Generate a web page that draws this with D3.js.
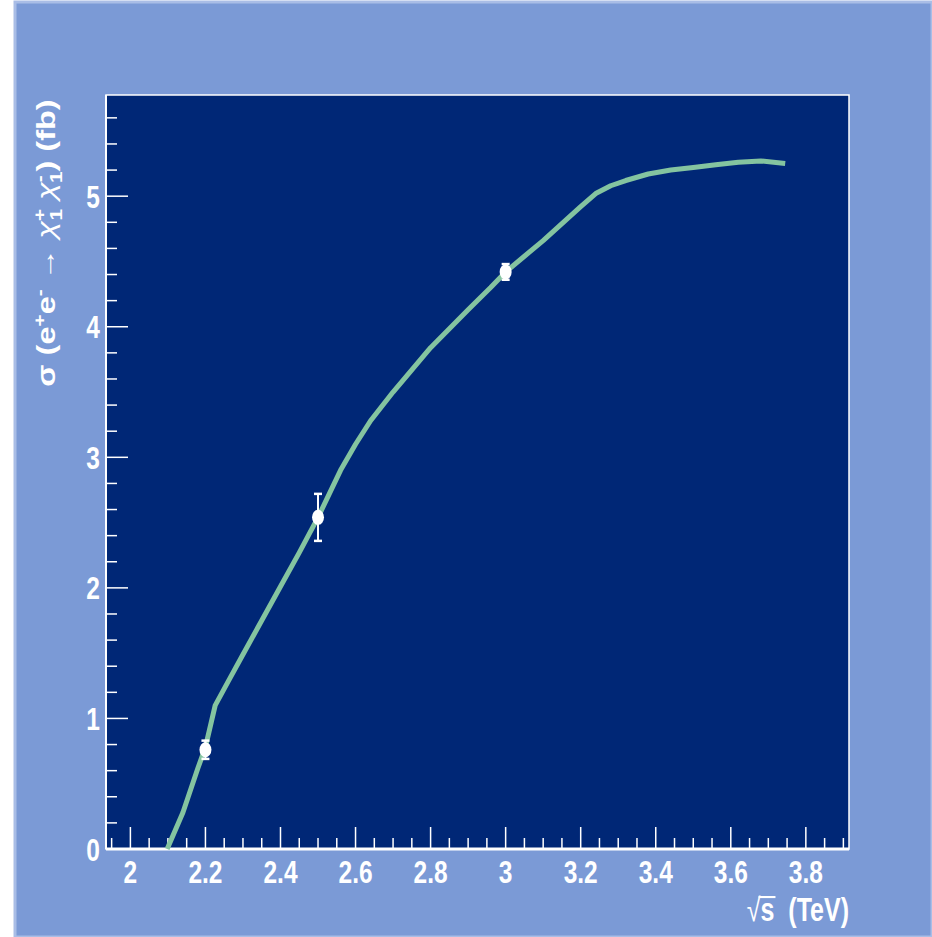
<!DOCTYPE html>
<html>
<head>
<meta charset="utf-8">
<script src="https://cdn.jsdelivr.net/npm/d3@7"></script>
<style>
  html, body { margin: 0; padding: 0; background: #ffffff; }
  svg { display: block; }
  text { font-family: "Liberation Sans", Arial, Helvetica, sans-serif; font-weight: bold; fill: #ffffff; }
</style>
</head>
<body>
<svg id="chart" width="932" height="937"></svg>
<script>
// Theory curve: chargino pair production cross section vs. centre-of-mass energy
const curveSqrtS = [2.098, 2.14, 2.18, 2.20, 2.226, 2.26, 2.30, 2.35, 2.40, 2.45, 2.50, 2.53,
  2.56, 2.60, 2.64, 2.70, 2.80, 2.90, 2.96, 3.00, 3.05, 3.10, 3.15, 3.20, 3.24, 3.28,
  3.32, 3.38, 3.44, 3.50, 3.56, 3.62, 3.68, 3.745];
const curveSigma = [0.0, 0.28, 0.62, 0.78, 1.10, 1.28, 1.49, 1.75, 2.01, 2.27, 2.54, 2.72,
  2.90, 3.10, 3.28, 3.50, 3.84, 4.13, 4.30, 4.42, 4.54, 4.66, 4.79, 4.92, 5.02, 5.08,
  5.12, 5.17, 5.20, 5.22, 5.24, 5.26, 5.27, 5.25];

// Simulated measurements with statistical errors
const pointSqrtS = [2.2, 2.5, 3.0];
const pointSigma = [0.76, 2.54, 4.42];
const pointError = [0.07, 0.18, 0.06];

const xTicks = [2, 2.2, 2.4, 2.6, 2.8, 3, 3.2, 3.4, 3.6, 3.8];
const yTicks = [0, 1, 2, 3, 4, 5];

const svg = d3.select("#chart");
const W = 932, H = 937;
const frame = { left: 106, top: 95, right: 849, bottom: 849 };
const stretch = 1.3;   // tall, narrow lettering

// canvas background
svg.append("rect").attr("x", 15).attr("y", 2).attr("width", W - 15).attr("height", H - 2)
  .attr("fill", "#7b9ad6").attr("stroke", "#a9bde6").attr("stroke-width", 3);

const x = d3.scaleLinear().domain([1.935, 3.915]).range([frame.left, frame.right]);
const y = d3.scaleLinear().domain([0, 5.775]).range([frame.bottom, frame.top]);

// plot frame
svg.append("rect")
  .attr("x", frame.left).attr("y", frame.top)
  .attr("width", frame.right - frame.left).attr("height", frame.bottom - frame.top)
  .attr("fill", "#002776").attr("stroke", "#ffffff").attr("stroke-width", 1.5);

// x axis ticks (pointing into the frame)
const xMinor = d3.range(1.95, 3.9001, 0.05).map(v => +v.toFixed(2));
svg.append("g").selectAll("line").data(xMinor).join("line")
  .attr("x1", d => x(d)).attr("x2", d => x(d))
  .attr("y1", frame.bottom)
  .attr("y2", d => frame.bottom - (xTicks.some(t => Math.abs(t - d) < 1e-6) ? 22 : 11))
  .attr("stroke", "#ffffff").attr("stroke-width", 1.5);

svg.append("g").selectAll("text").data(xTicks).join("text")
  .attr("transform", d => `translate(${x(d)},883) scale(1,${stretch})`)
  .attr("text-anchor", "middle").attr("font-size", 24.5)
  .text(d3.format("~g"));

svg.append("line").attr("x1", frame.left).attr("x2", frame.right)
  .attr("y1", frame.bottom).attr("y2", frame.bottom)
  .attr("stroke", "#ffffff").attr("stroke-width", 3);

// y axis ticks
const yMinor = d3.range(0.2, 5.7001, 0.2).map(v => +v.toFixed(2));
svg.append("g").selectAll("line").data(yMinor).join("line")
  .attr("x1", frame.left)
  .attr("x2", d => frame.left + (yTicks.some(t => Math.abs(t - d) < 1e-6) ? 22 : 11))
  .attr("y1", d => y(d)).attr("y2", d => y(d))
  .attr("stroke", "#ffffff").attr("stroke-width", 1.5);

svg.append("g").selectAll("text").data(yTicks).join("text")
  .attr("transform", d => `translate(100,${y(d) + 11.5}) scale(1,${stretch})`)
  .attr("text-anchor", "end").attr("font-size", 24.5)
  .text(d3.format("d"));

svg.append("line").attr("x1", frame.left).attr("x2", frame.left)
  .attr("y1", frame.top).attr("y2", frame.bottom)
  .attr("stroke", "#ffffff").attr("stroke-width", 2);

// theory curve
const line = d3.line().x(d => x(d[0])).y(d => y(d[1]));
svg.append("path")
  .datum(curveSqrtS.map((s, i) => [s, curveSigma[i]]))
  .attr("d", line)
  .attr("fill", "none").attr("stroke", "#84c4a0").attr("stroke-width", 5)
  .attr("stroke-linejoin", "round");

// measured points with error bars
const pts = pointSqrtS.map((s, i) => ({ s, v: pointSigma[i], e: pointError[i] }));
const gp = svg.append("g");
gp.selectAll("line.bar").data(pts).join("line").attr("class", "bar")
  .attr("x1", d => x(d.s)).attr("x2", d => x(d.s))
  .attr("y1", d => y(d.v + d.e)).attr("y2", d => y(d.v - d.e))
  .attr("stroke", "#ffffff").attr("stroke-width", 2);
gp.selectAll("line.capt").data(pts).join("line").attr("class", "capt")
  .attr("x1", d => x(d.s) - 4).attr("x2", d => x(d.s) + 4)
  .attr("y1", d => y(d.v + d.e)).attr("y2", d => y(d.v + d.e))
  .attr("stroke", "#ffffff").attr("stroke-width", 2.5);
gp.selectAll("line.capb").data(pts).join("line").attr("class", "capb")
  .attr("x1", d => x(d.s) - 4).attr("x2", d => x(d.s) + 4)
  .attr("y1", d => y(d.v - d.e)).attr("y2", d => y(d.v - d.e))
  .attr("stroke", "#ffffff").attr("stroke-width", 2.5);
gp.selectAll("ellipse").data(pts).join("ellipse")
  .attr("cx", d => x(d.s)).attr("cy", d => y(d.v))
  .attr("rx", 6).attr("ry", 7.5).attr("fill", "#ffffff");

// x axis title: √s with an overline, then the unit
const gxt = svg.append("g").attr("transform", `translate(${frame.right},921) scale(1,${stretch})`);
const xt = gxt.append("text").attr("text-anchor", "end").attr("font-size", 25);
xt.append("tspan").attr("font-weight", "normal").text("\u221a");
xt.append("tspan").text("s\u00a0\u00a0(TeV)");
const sBox = xt.node().getExtentOfChar(1);
const rootBox = xt.node().getExtentOfChar(0);
gxt.append("line")
  .attr("x1", rootBox.x + rootBox.width - 2).attr("x2", sBox.x + sBox.width + 1)
  .attr("y1", rootBox.y + 4).attr("y2", rootBox.y + 4)
  .attr("stroke", "#ffffff").attr("stroke-width", 1.6);

// y axis title (rotated, stretched along its length)
const yt = svg.append("text")
  .attr("transform", `translate(55,243) rotate(-90) scale(${stretch},1)`)
  .attr("text-anchor", "middle").attr("font-size", 25);
yt.append("tspan").text("\u03c3 (e");
yt.append("tspan").attr("font-size", 16).attr("dy", -10).text("+");
yt.append("tspan").attr("dy", 10).text("e");
yt.append("tspan").attr("font-size", 16).attr("dy", -10).text("-");
yt.append("tspan").attr("dy", 10).attr("font-weight", "normal").text(" \u2192 ");
yt.append("tspan").attr("font-weight", "normal").attr("font-style", "italic").text("\u03c7");
yt.append("tspan").attr("font-size", 16).attr("dy", -10).text("+");
yt.append("tspan").attr("font-size", 16).attr("dx", -9).attr("dy", 17).text("1");
yt.append("tspan").attr("dy", -7).text(" ");
yt.append("tspan").attr("font-weight", "normal").attr("font-style", "italic").text("\u03c7");
yt.append("tspan").attr("font-size", 16).attr("dy", -10).text("-");
yt.append("tspan").attr("font-size", 16).attr("dx", -6).attr("dy", 17).text("1");
yt.append("tspan").attr("dy", -7).text(") (fb)");
</script>
</body>
</html>
